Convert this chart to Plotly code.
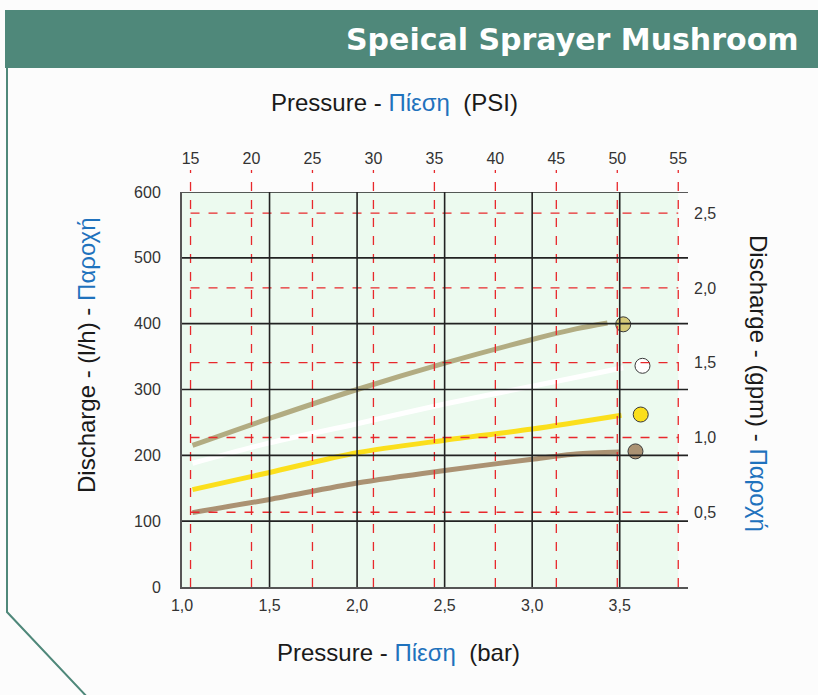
import plotly.graph_objects as go

# pressure in bar (bottom axis) / discharge in l/h (left axis)
bar_ticks = [1.0, 1.5, 2.0, 2.5, 3.0, 3.5]
bar_labels = ["1,0", "1,5", "2,0", "2,5", "3,0", "3,5"]
lh_ticks = [0, 100, 200, 300, 400, 500, 600]
psi_ticks = [15, 20, 25, 30, 35, 40, 45, 50, 55]
gpm_ticks = [0.5, 1.0, 1.5, 2.0, 2.5]
gpm_labels = ["0,5", "1,0", "1,5", "2,0", "2,5"]

khaki_bar = [1.06, 1.5, 2.0, 2.5, 3.0, 3.25, 3.43]
khaki_lh = [215, 256, 300, 340, 376, 392, 401]
white_bar = [1.06, 1.5, 2.0, 2.5, 3.0, 3.52]
white_lh = [188, 219, 248, 278, 305, 333]
yellow_bar = [1.06, 1.5, 2.0, 2.5, 3.0, 3.51]
yellow_lh = [148, 174, 204, 223, 240, 261]
brown_bar = [1.06, 1.5, 2.0, 2.5, 3.0, 3.25, 3.5]
brown_lh = [113, 133, 158, 177, 194, 202, 205]

dot_bar = [3.52, 3.63, 3.62, 3.59]
dot_lh = [399, 336, 262, 206]

series = [
    ("khaki", khaki_bar, khaki_lh, "#b2ac82", "#d6ca78"),
    ("white", white_bar, white_lh, "#ffffff", "#ffffff"),
    ("yellow", yellow_bar, yellow_lh, "#fbdf1c", "#fbdf1c"),
    ("brown", brown_bar, brown_lh, "#ab9273", "#ab9273"),
]

W, H = 818, 695
L, R, T, B = 182, 688, 192, 587
BLUE = "#1f72bd"
RED = "#e8282c"
GREEN = "#4f887a"


def px(x):
    return (x - L) / (R - L)


def py(y):
    return (B - y) / (B - T)


fig = go.Figure()

for i, (name, xs, ys, lc, mc) in enumerate(series):
    fig.add_trace(go.Scatter(x=xs, y=ys, mode="lines", name=name,
                             line=dict(color=lc, width=5, shape="spline", smoothing=0.8),
                             showlegend=False, hoverinfo="skip"))
    fig.add_trace(go.Scatter(x=[dot_bar[i]], y=[dot_lh[i]], mode="markers", name=name,
                             marker=dict(color=mc, size=15, line=dict(color="#3a3a3a", width=1)),
                             showlegend=False, cliponaxis=False))

# invisible traces so the psi and gpm axes exist
fig.add_trace(go.Scatter(x=[psi_ticks[0]], y=[0], xaxis="x2", yaxis="y", mode="markers",
                         marker=dict(opacity=0), showlegend=False, hoverinfo="skip"))
fig.add_trace(go.Scatter(x=[1.0], y=[gpm_ticks[0]], xaxis="x", yaxis="y2", mode="markers",
                         marker=dict(opacity=0), showlegend=False, hoverinfo="skip"))

shapes = []
# light green field up to 55 psi
shapes.append(dict(type="rect", xref="x2", yref="y", x0=14.3, x1=psi_ticks[-1], y0=0, y1=600,
                   fillcolor="#ecfaef", line=dict(width=0), layer="below"))
# red dashed psi lines, poking above the plot
for p in psi_ticks:
    shapes.append(dict(type="line", xref="x2", yref="paper", x0=p, x1=p, y0=0, y1=1 + 22 / (B - T),
                       line=dict(color=RED, width=1.3, dash="dash")))
# red dashed gpm lines
for g in gpm_ticks:
    shapes.append(dict(type="line", xref="x2", yref="y2", x0=psi_ticks[0], x1=psi_ticks[-1], y0=g, y1=g,
                       line=dict(color=RED, width=1.3, dash="dash")))
# solid black grid
for b in bar_ticks[1:]:
    shapes.append(dict(type="line", xref="x", yref="y", x0=b, x1=b, y0=0, y1=600,
                       line=dict(color="#222", width=1.6)))
for v in lh_ticks[1:]:
    shapes.append(dict(type="line", xref="paper", yref="y", x0=0, x1=1, y0=v, y1=v,
                       line=dict(color="#222", width=1.6)))
# header and frame
shapes.append(dict(type="rect", xref="paper", yref="paper", x0=px(5), x1=px(820), y0=py(10), y1=py(68),
                   fillcolor=GREEN, line=dict(width=0)))
shapes.append(dict(type="path", xref="paper", yref="paper",
                   path=f"M {px(7)},{py(68)} L {px(7)},{py(612)} L {px(90)},{py(700)}",
                   line=dict(color=GREEN, width=2)))

annotations = [
    dict(text="<b>Speical Sprayer Mushroom</b>", x=px(801), y=py(40), xanchor="right", yanchor="middle",
         font=dict(size=30, color="white", family="DejaVu Sans")),
    dict(text=f"Pressure - <span style='color:{BLUE}'>Πίεση</span>&nbsp;&nbsp;(PSI)", x=px(394), y=py(103),
         xanchor="center", yanchor="middle", font=dict(size=24, color="#1a1a1a")),
    dict(text=f"Pressure - <span style='color:{BLUE}'>Πίεση</span>&nbsp;&nbsp;(bar)", x=px(398), y=py(652),
         xanchor="center", yanchor="middle", font=dict(size=24, color="#1a1a1a")),
    dict(text=f"Discharge - (l/h) - <span style='color:{BLUE}'>Παροχή</span>", x=px(86), y=py(355),
         xanchor="center", yanchor="middle", textangle=-90, font=dict(size=24, color="#1a1a1a")),
    dict(text=f"Discharge - (gpm) - <span style='color:{BLUE}'>Παροχή</span>", x=px(759), y=py(383),
         xanchor="center", yanchor="middle", textangle=90, font=dict(size=24, color="#1a1a1a")),
]
for a in annotations:
    a.update(xref="paper", yref="paper", showarrow=False)

tickfont = dict(size=16, color="#333", family="Liberation Sans")

fig.update_layout(
    width=W, height=H,
    margin=dict(l=L, r=W - R, t=T, b=H - B),
    paper_bgcolor="#fcfcfc", plot_bgcolor="#fcfcfc",
    font=dict(family="Liberation Sans"),
    xaxis=dict(range=[1.0, 3.89], tickvals=bar_ticks, ticktext=bar_labels, showgrid=False,
               zeroline=False, showline=True, linecolor="#555", linewidth=2,
               ticks="", ticklabelstandoff=3, tickfont=tickfont),
    xaxis2=dict(range=[14.3, 55.8], overlaying="x", side="top", tickvals=psi_ticks,
                showgrid=False, zeroline=False, ticks="", ticklabelstandoff=24, tickfont=tickfont),
    yaxis=dict(range=[0, 600], tickvals=lh_ticks, showgrid=False, zeroline=False,
               showline=True, linecolor="#555", linewidth=2, ticks="", ticklabelstandoff=16,
               tickfont=tickfont),
    yaxis2=dict(range=[0, 600 / (3.78541 * 60)], overlaying="y", side="right", tickvals=gpm_ticks,
                ticktext=gpm_labels, showgrid=False, zeroline=False, ticks="",
                ticklabelstandoff=5, tickfont=tickfont),
    shapes=shapes,
    annotations=annotations,
)

fig.write_html("out.html", config={"displayModeBar": False},
               post_script="document.body.style.margin='0';")
